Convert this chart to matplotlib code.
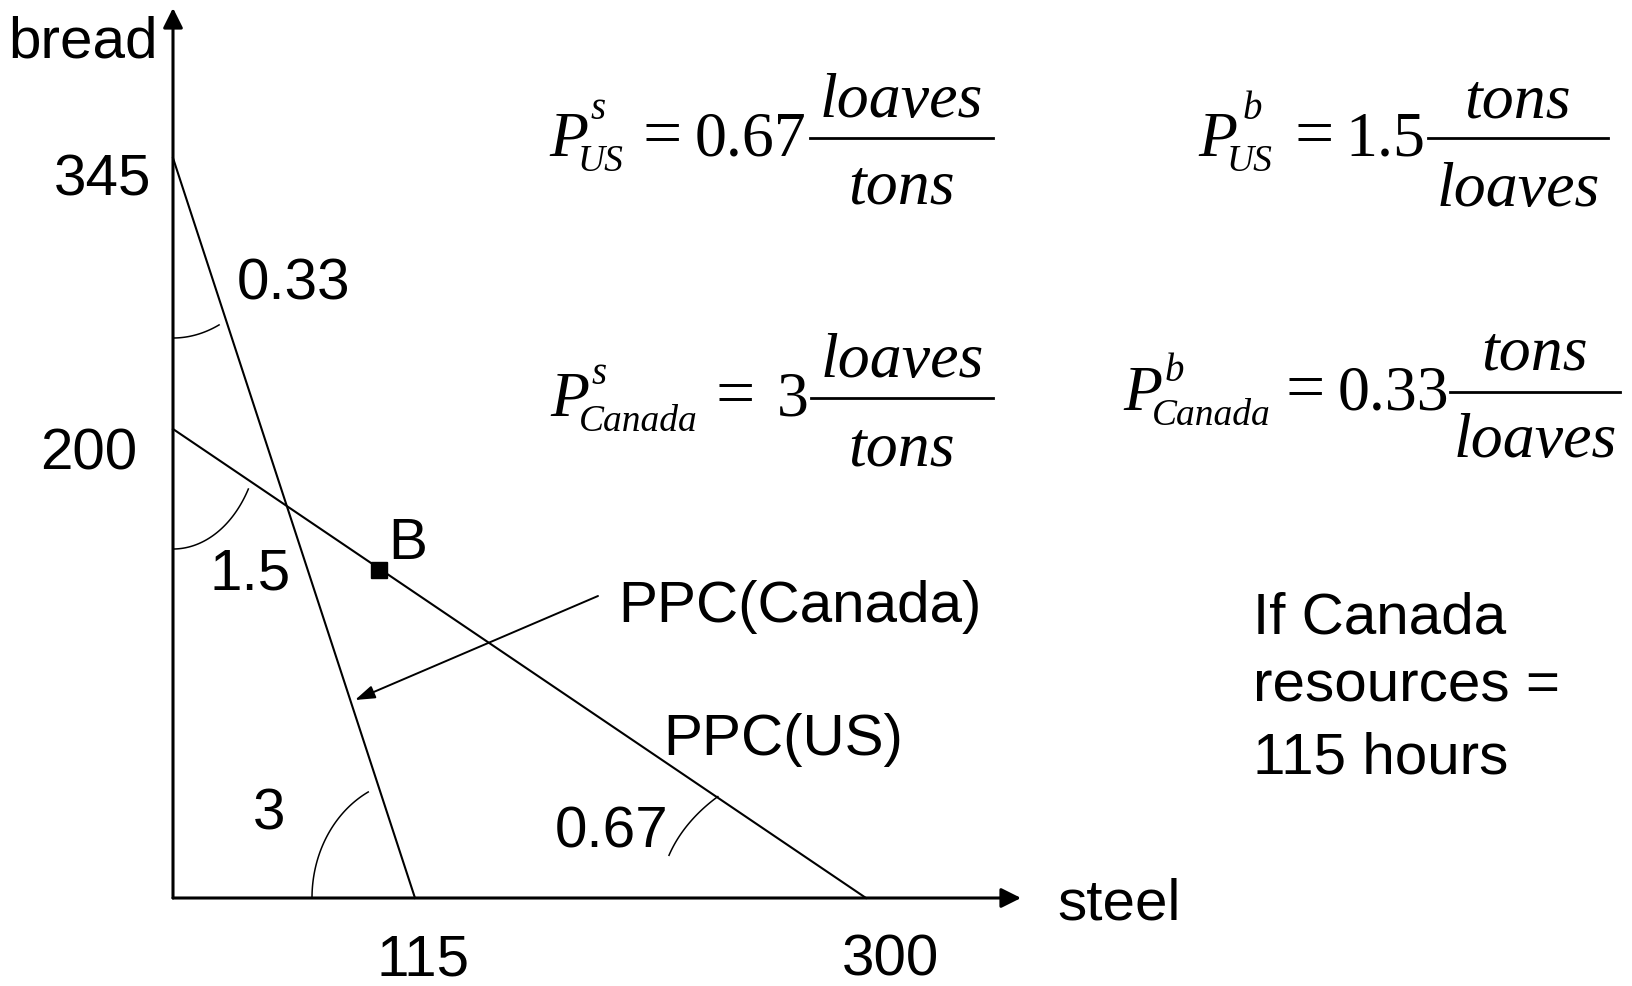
import numpy as np
import matplotlib.pyplot as plt

plt.rcParams['font.family'] = ['Liberation Sans', 'DejaVu Sans']

# data
countries = ['Canada', 'US']
steel_max = [115, 300]        # x-intercepts of the PPCs
bread_max = [345, 200]        # y-intercepts of the PPCs
point_b = [98, 140]
angle_labels = ['0.33', '1.5', '3', '0.67']
note_lines = ['If Canada', 'resources =', '115 hours']

# the sketch is not drawn to scale: piecewise-linear axes
x_knots, x_pix = [0, 115, 300], [0, 242, 693]
y_knots, y_pix = [0, 200, 345], [0, 469, 740]

FS = 42


def piecewise(d, p):
    d = np.asarray(d, float)
    p = np.asarray(p, float)

    def make(a, b):
        s0 = (b[1] - b[0]) / (a[1] - a[0])
        s1 = (b[-1] - b[-2]) / (a[-1] - a[-2])

        def f(v):
            v = np.asarray(v, float)
            out = np.interp(v, a, b)
            out = np.where(v > a[-1], b[-1] + (v - a[-1]) * s1, out)
            out = np.where(v < a[0], b[0] + (v - a[0]) * s0, out)
            return out
        return f
    return make(d, p), make(p, d)


W, H = 1633, 986
fig = plt.figure(figsize=(W / 100, H / 100), dpi=100)

# overlay in pixel coordinates for the text
ov = fig.add_axes([0, 0, 1, 1])
ov.set_xlim(0, W)
ov.set_ylim(H, 0)
ov.axis('off')

x0, y0, xr, yt = 173, 898, 1021, 8
ax = fig.add_axes([x0 / W, (H - y0) / H, (xr - x0) / W, (y0 - yt) / H])
fx, ix = piecewise(x_knots, x_pix)
fy, iy = piecewise(y_knots, y_pix)
ax.set_xscale('function', functions=(fx, ix))
ax.set_yscale('function', functions=(fy, iy))
ax.set_xlim(0, float(ix(xr - x0)))
ax.set_ylim(0, float(iy(y0 - yt)))
ax.set_xticks([])
ax.set_yticks([])
for s in ax.spines.values():
    s.set_visible(False)
ax.patch.set_visible(False)

# axes with arrow heads
akw = dict(arrowstyle='-|>,head_length=0.6,head_width=0.3', color='black',
           lw=2.2, mutation_scale=20, shrinkA=0, shrinkB=0)
ax.annotate('', xy=(1, 0), xytext=(0, 0), xycoords='axes fraction', arrowprops=akw)
ax.annotate('', xy=(0, 1), xytext=(0, 0), xycoords='axes fraction', arrowprops=akw)

# PPC lines
for sm, bm in zip(steel_max, bread_max):
    ax.plot([0, sm], [bm, 0], color='black', lw=1.5, clip_on=False)
ax.plot(point_b[0], point_b[1], marker='s', ms=11, color='black', clip_on=False)
ax.annotate('B', xy=point_b, xytext=(29, 11), textcoords='offset pixels',
            ha='center', va='baseline', fontsize=FS)

# axis values
for v, off in zip(bread_max, [(-22, -37), (-36, -40)]):
    ax.annotate(str(v), xy=(0, v), xytext=off, textcoords='offset pixels',
                ha='right', va='baseline', fontsize=FS)
for v, off in zip(steel_max, [(8, -78), (24, -78)]):
    ax.annotate(str(v), xy=(v, 0), xytext=off, textcoords='offset pixels',
                ha='center', va='baseline', fontsize=FS)


def to_ov(pt):
    return ov.transData.inverted().transform(ax.transData.transform(pt))


# angle arcs (ellipse pieces around the intercepts)
arc_specs = [((0, bread_max[0]), 123, 180, -90, -68),
             ((0, bread_max[1]), 87, 120, -90, -30),
             ((steel_max[0], 0), 103, 119, 117, 180),
             ((steel_max[1], 0), 206, 146, 136, 163)]
for c, a, b, t1, t2 in arc_specs:
    cx, cy = to_ov(c)
    t = np.radians(np.linspace(t1, t2, 80))
    ov.plot(cx + a * np.cos(t), cy - b * np.sin(t), color='black', lw=1.1)

for txt, (x, y) in zip(angle_labels, [(294, 300), (250, 589), (269, 830), (612, 847)]):
    ov.text(x, y, txt, ha='center', va='baseline', fontsize=FS)

ov.text(158, 57, 'bread', ha='right', va='baseline', fontsize=FS)
ov.text(1057, 920, 'steel', ha='left', va='baseline', fontsize=FS)

ov.text(618, 622, 'PPC(Canada)', va='baseline', fontsize=FS)
ov.text(663, 755, 'PPC(US)', va='baseline', fontsize=FS)
ov.annotate('', xy=(355, 700), xytext=(598, 596),
            arrowprops=dict(arrowstyle='-|>,head_length=0.6,head_width=0.2',
                            color='black', lw=1.4, mutation_scale=20,
                            shrinkA=0, shrinkB=0))

for txt, y in zip(note_lines, [633, 701, 773]):
    ov.text(1253, y, txt, va='baseline', fontsize=FS)

# price formulas
serif = ['Liberation Serif', 'DejaVu Serif']


def price(px, base, sup, sup_x, sup_dy, sub, value, eq_x, val_x, num, den, lx, ly, nb, db):
    kw = dict(family=serif, va='baseline')
    ov.text(px, base, 'P', fontsize=46, style='italic', **kw)
    ov.text(sup_x, base - sup_dy, sup, fontsize=28, style='italic', **kw)
    ov.text(px + 29, base + 15, sub, fontsize=27, style='italic', **kw)
    ov.text(eq_x, base, '=', fontsize=50, **kw)
    ov.text(val_x, base, value, fontsize=46, **kw)
    ov.plot(lx, [ly, ly], color='black', lw=2)
    cx = sum(lx) / 2
    ov.text(cx, nb, num, fontsize=46, style='italic', ha='center', **kw)
    ov.text(cx, db, den, fontsize=46, style='italic', ha='center', **kw)


price(549, 156, 's', 591, 37, 'US', '0.67', 643, 695, 'loaves', 'tons', [810, 993], 138, 117, 204)
price(1198, 156, 'b', 1243, 37, 'US', '1.5', 1295, 1345, 'tons', 'loaves', [1428, 1608], 138, 117, 206)
price(550, 416, 's', 592, 32, 'Canada', '3', 716, 777, 'loaves', 'tons', [811, 993], 398, 377, 465)
price(1123, 410, 'b', 1165, 29, 'Canada', '0.33', 1286, 1338, 'tons', 'loaves', [1450, 1620], 392, 370, 457)

plt.savefig('out.png', dpi=100)
